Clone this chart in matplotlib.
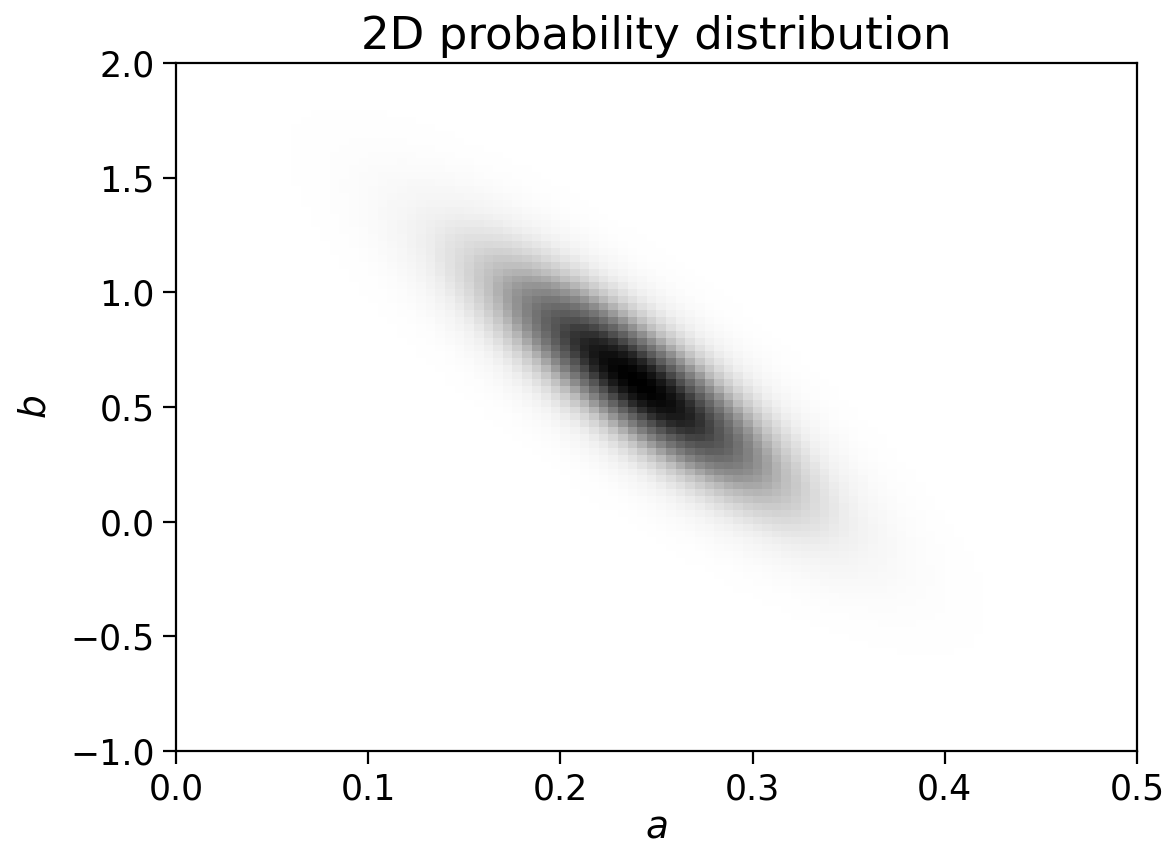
import numpy as np
import matplotlib
matplotlib.use("Agg")
import matplotlib.pyplot as plt

# Distribution parameters
mean_a = 0.24
mean_b = 0.61
sigma_a = 0.055
sigma_b = 0.36
rho = -0.84

a_range = [0.0, 0.5]
b_range = [-1.0, 2.0]
n_grid = 100

x_ticks = [0.0, 0.1, 0.2, 0.3, 0.4, 0.5]
y_ticks = [-1.0, -0.5, 0.0, 0.5, 1.0, 1.5, 2.0]

a = np.linspace(a_range[0], a_range[1], n_grid)
b = np.linspace(b_range[0], b_range[1], n_grid)
A, B = np.meshgrid(a, b)
za = (A - mean_a) / sigma_a
zb = (B - mean_b) / sigma_b
q = (za**2 - 2 * rho * za * zb + zb**2) / (1 - rho**2)
P = np.exp(-0.5 * q)

W, H = 1163, 847
fig = plt.figure(figsize=(W / 100, H / 100), dpi=100)
ax = fig.add_axes([176 / W, 1 - 751 / H, (1137 - 176) / W, (751 - 63) / H])
ax.imshow(P, extent=[a_range[0], a_range[1], b_range[0], b_range[1]],
          origin="lower", aspect="auto", cmap="Greys", interpolation="nearest")
ax.set_xlim(a_range)
ax.set_ylim(b_range)
ax.set_xticks(x_ticks)
ax.set_yticks(y_ticks)
ax.tick_params(labelsize=25, length=9.5, width=1.6, pad=6)
for s in ax.spines.values():
    s.set_linewidth(1.6)
ax.set_xlabel("$a$", fontsize=27, labelpad=2)
ax.set_ylabel("$b$", fontsize=27, labelpad=12)
ax.set_title("2D probability distribution", fontsize=32.5, pad=10)
fig.savefig("out.png", dpi=100)
